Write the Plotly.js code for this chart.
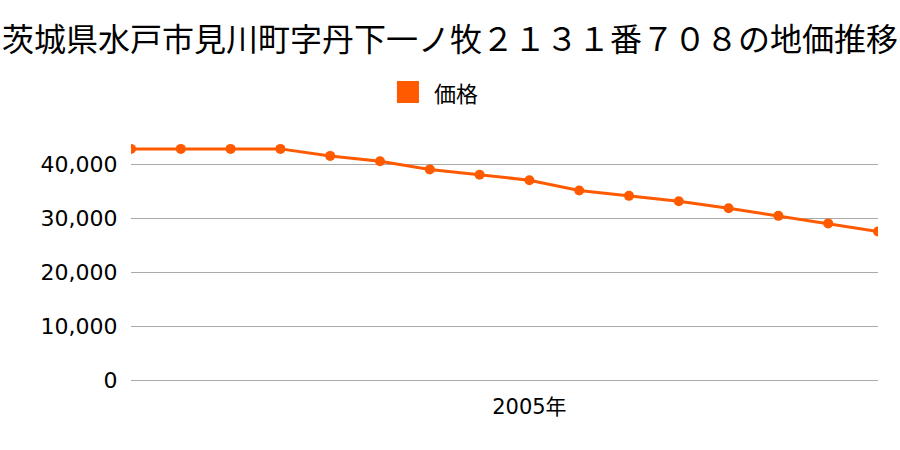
<!DOCTYPE html>
<html>
<head>
<meta charset="utf-8">
<script src="https://cdn.plot.ly/plotly-3.0.1.min.js"></script>
<style>html,body{margin:0;padding:0;background:#fff;}#chart{width:900px;height:450px;}</style>
</head>
<body>
<div id="chart"></div>
<script>
const years = [1997,1998,1999,2000,2001,2002,2003,2004,2005,2006,2007,2008,2009,2010,2011,2012];
const prices = [42800,42800,42800,42800,41500,40500,39000,38000,37000,35100,34100,33100,31800,30400,29000,27500];
const seriesName = '価格';
const titleText = '茨城県水戸市見川町字丹下一ノ牧２１３１番７０８の地価推移';
const xTickVals = [2005];
const xTickText = ['2005年'];
const yTickVals = [0,10000,20000,30000,40000];
const yTickText = ['0','10,000','20,000','30,000','40,000'];

const color = '#ff5a00';
const font = '"Noto Sans CJK JP", "Noto Sans", sans-serif';
const tickFont = '"DejaVu Sans", "Noto Sans CJK JP", sans-serif';

const trace = {
  x: years, y: prices, type: 'scatter', mode: 'lines+markers',
  name: seriesName, showlegend: false,
  line: {color: color, width: 3},
  marker: {color: color, size: 10}
};

const layout = {
  width: 900, height: 450,
  margin: {l: 131, r: 22, t: 137, b: 70},
  paper_bgcolor: '#fff', plot_bgcolor: '#fff',
  font: {family: font, color: '#000', size: 20},
  title: {text: titleText, x: 0.5, xanchor: 'center', y: 0.912, yanchor: 'middle', font: {family: font, size: 32, color: '#000'}},
  xaxis: {range: [1997, 2012], tickvals: xTickVals, ticktext: xTickText, showgrid: false, zeroline: false, showline: false,
          ticks: 'outside', ticklen: 8, tickcolor: 'rgba(0,0,0,0)', tickfont: {family: tickFont, size: 21}},
  yaxis: {range: [0, 45000], tickvals: yTickVals, ticktext: yTickText, showgrid: true, gridcolor: '#aaaaaa', gridwidth: 1,
          zeroline: true, zerolinecolor: '#aaaaaa', zerolinewidth: 1, showline: false,
          ticks: 'outside', ticklen: 8, tickcolor: 'rgba(0,0,0,0)', tickfont: {family: tickFont, size: 22}},
  showlegend: false,
  shapes: [{type: 'rect', xref: 'paper', yref: 'paper', x0: 0.356, x1: 0.3855, y0: 1.140, y1: 1.2305,
            fillcolor: color, line: {width: 0}}],
  annotations: [{text: seriesName, xref: 'paper', yref: 'paper', x: 0.403, y: 1.185, xanchor: 'left', yanchor: 'middle',
                 showarrow: false, font: {family: font, size: 22, color: '#000'}}]
};

Plotly.newPlot('chart', [trace], layout, {displayModeBar: false, staticPlot: true});
</script>
</body>
</html>
